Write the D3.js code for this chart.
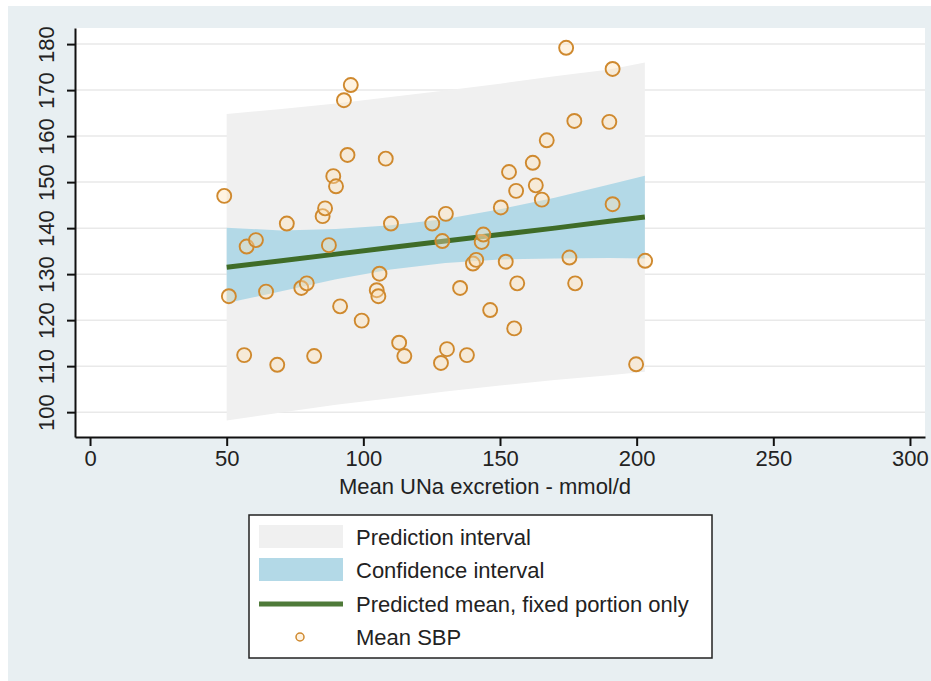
<!DOCTYPE html>
<html>
<head>
<meta charset="utf-8">
<script src="https://cdn.jsdelivr.net/npm/d3@7"></script>
<style>
  html, body { margin: 0; padding: 0; background: #ffffff; }
  svg { display: block; font-family: "Liberation Sans", Arial, Helvetica, sans-serif; }
</style>
</head>
<body>
<svg id="chart" width="931" height="681"></svg>
<script>
// Mean urinary sodium excretion (mmol/d) vs mean systolic blood pressure
const unaExcretion = [
  49.1, 50.8, 56.4, 57.3, 60.7, 64.4, 68.5, 72.0, 77.3, 79.3,
  82.0, 85.1, 86.0, 87.4, 89.0, 90.0, 91.5, 92.9, 94.2, 95.4,
  99.4, 104.9, 105.5, 105.9, 108.2, 110.1, 113.1, 115.0, 125.2, 128.4,
  128.9, 130.2, 130.6, 135.4, 137.9, 140.1, 141.3, 143.3, 143.9, 146.4,
  150.3, 152.1, 153.3, 155.2, 155.9, 156.3, 162.0, 163.1, 165.3, 167.1,
  174.2, 175.4, 177.2, 177.5, 190.0, 191.2, 191.2, 199.8, 203.1
];
const meanSBP = [
  147.0, 125.2, 112.4, 136.0, 137.4, 126.2, 110.3, 141.0, 127.0, 128.0,
  112.2, 142.6, 144.3, 136.3, 151.3, 149.1, 123.0, 167.8, 155.9, 171.1,
  119.9, 126.5, 125.2, 130.1, 155.1, 141.0, 115.1, 112.2, 141.0, 110.7,
  137.2, 143.1, 113.7, 127.0, 112.4, 132.3, 133.1, 137.0, 138.6, 122.2,
  144.5, 132.7, 152.2, 118.2, 148.1, 128.0, 154.2, 149.3, 146.2, 159.1,
  179.2, 133.6, 163.3, 128.0, 163.1, 174.6, 145.2, 110.4, 132.9
];

// Fitted mean with confidence and prediction bands, evaluated along the x range
const fitX      = [50, 70, 90, 110, 130, 150, 170, 190, 203];
const fitMean   = [131.5, 132.9, 134.35, 135.8, 137.2, 138.6, 140.0, 141.5, 142.4];
const ciLower   = [123.7, 126.3, 128.9, 131.0, 132.4, 133.2, 133.4, 133.5, 133.4];
const ciUpper   = [140.1, 139.5, 139.8, 140.6, 142.0, 144.1, 146.6, 149.5, 151.4];
const piLower   = [98.2, 99.9, 101.6, 103.0, 104.5, 105.8, 107.0, 108.0, 108.8];
const piUpper   = [164.8, 165.9, 167.1, 168.5, 169.9, 171.4, 173.0, 174.5, 176.0];

const xTicks = [0, 50, 100, 150, 200, 250, 300];
const yTicks = [100, 110, 120, 130, 140, 150, 160, 170, 180];

const xTitle = "Mean UNa excretion - mmol/d";
const legendLabels = [
  "Prediction interval",
  "Confidence interval",
  "Predicted mean, fixed portion only",
  "Mean SBP"
];

const colors = {
  outer: "#e8eff2",
  plot: "#ffffff",
  grid: "#e9e9e9",
  pi: "#f0f0f0",
  ci: "#b3d9e7",
  line: "#3f6c28",
  legendLine: "#4f7a39",
  marker: "#cf892e",
  markerFill: "rgba(255, 226, 180, 0.4)",
  axis: "#111111",
  text: "#222222"
};

const svg = d3.select("#chart");

// Outer graph region
svg.append("rect")
  .attr("x", 8).attr("y", 6).attr("width", 923).attr("height", 675)
  .attr("fill", colors.outer);

const plot = { left: 75, right: 925, top: 28, bottom: 437 };

svg.append("rect")
  .attr("x", plot.left).attr("y", plot.top)
  .attr("width", plot.right - plot.left).attr("height", plot.bottom - plot.top)
  .attr("fill", colors.plot);

const x = d3.scaleLinear().domain([-5.5, 305.5]).range([plot.left, plot.right]);
const y = d3.scaleLinear().domain([94.6, 183.5]).range([plot.bottom, plot.top]);

// Horizontal gridlines
svg.append("g")
  .selectAll("line")
  .data(yTicks)
  .join("line")
  .attr("x1", plot.left).attr("x2", plot.right)
  .attr("y1", d => y(d)).attr("y2", d => y(d))
  .attr("stroke", colors.grid).attr("stroke-width", 1.5);

const fitRows = fitX.map((v, i) => ({
  x: v, mean: fitMean[i], ciLo: ciLower[i], ciHi: ciUpper[i], piLo: piLower[i], piHi: piUpper[i]
}));

// Prediction band
svg.append("path")
  .datum(fitRows)
  .attr("fill", colors.pi)
  .attr("d", d3.area().x(d => x(d.x)).y0(d => y(d.piLo)).y1(d => y(d.piHi)));

// Confidence band
svg.append("path")
  .datum(fitRows)
  .attr("fill", colors.ci)
  .attr("d", d3.area().x(d => x(d.x)).y0(d => y(d.ciLo)).y1(d => y(d.ciHi)));

// Fitted mean
svg.append("path")
  .datum(fitRows)
  .attr("fill", "none")
  .attr("stroke", colors.line)
  .attr("stroke-width", 5)
  .attr("d", d3.line().x(d => x(d.x)).y(d => y(d.mean)));

// Observed points
const points = unaExcretion.map((v, i) => ({ x: v, y: meanSBP[i] }));
svg.append("g")
  .selectAll("circle")
  .data(points)
  .join("circle")
  .attr("cx", d => x(d.x)).attr("cy", d => y(d.y))
  .attr("r", 7)
  .attr("fill", colors.markerFill)
  .attr("stroke", colors.marker)
  .attr("stroke-width", 1.9);

// Y axis
const yAxis = svg.append("g")
  .attr("transform", `translate(${plot.left},0)`)
  .call(d3.axisLeft(y).tickValues(yTicks).tickSize(8).tickSizeOuter(0).tickPadding(6));
yAxis.select(".domain").attr("stroke", colors.axis).attr("stroke-width", 2);
yAxis.selectAll(".tick line").attr("stroke", colors.axis).attr("stroke-width", 2);
yAxis.selectAll(".tick text")
  .attr("x", 0).attr("dy", 0)
  .attr("transform", "translate(-29,0) rotate(-90)")
  .attr("text-anchor", "middle")
  .attr("dominant-baseline", "central")
  .attr("font-size", 22)
  .attr("fill", colors.text);

// X axis
const xAxis = svg.append("g")
  .attr("transform", `translate(0,${plot.bottom})`)
  .call(d3.axisBottom(x).tickValues(xTicks).tickSize(9).tickSizeOuter(0).tickPadding(4));
xAxis.select(".domain").attr("stroke", colors.axis).attr("stroke-width", 2);
xAxis.selectAll(".tick line").attr("stroke", colors.axis).attr("stroke-width", 2);
xAxis.selectAll(".tick text")
  .attr("font-size", 22)
  .attr("fill", colors.text);

svg.append("text")
  .attr("x", 485)
  .attr("y", 494)
  .attr("text-anchor", "middle")
  .attr("font-size", 22)
  .attr("fill", colors.text)
  .text(xTitle);

// Legend
const legend = svg.append("g");
legend.append("rect")
  .attr("x", 249).attr("y", 515).attr("width", 463).attr("height", 143)
  .attr("fill", "#ffffff").attr("stroke", "#222222").attr("stroke-width", 1.5);

const rowY = [537, 570, 604, 637];
const swX = 259, swW = 84, textX = 356;

legend.append("rect").attr("x", swX).attr("y", rowY[0] - 12).attr("width", swW).attr("height", 23).attr("fill", colors.pi);
legend.append("rect").attr("x", swX).attr("y", rowY[1] - 12).attr("width", swW).attr("height", 23).attr("fill", colors.ci);
legend.append("line").attr("x1", swX).attr("x2", swX + swW).attr("y1", rowY[2]).attr("y2", rowY[2])
  .attr("stroke", colors.legendLine).attr("stroke-width", 5);
legend.append("circle").attr("cx", 300).attr("cy", rowY[3]).attr("r", 4)
  .attr("fill", colors.markerFill).attr("stroke", colors.marker).attr("stroke-width", 1.5);

legend.selectAll("text.lbl")
  .data(legendLabels)
  .join("text")
  .attr("class", "lbl")
  .attr("x", textX)
  .attr("y", (d, i) => rowY[i])
  .attr("dominant-baseline", "central")
  .attr("font-size", 22)
  .attr("fill", colors.text)
  .text(d => d);
</script>
</body>
</html>
